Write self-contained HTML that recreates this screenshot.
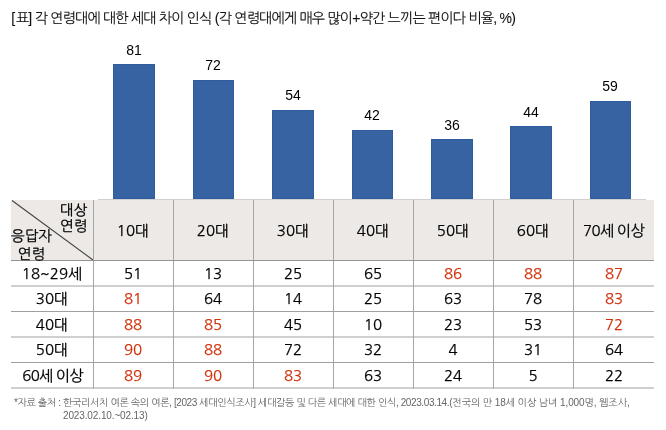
<!DOCTYPE html>
<html lang="ko">
<head>
<meta charset="utf-8">
<style>
html,body{margin:0;padding:0;background:#fff;}
body{width:666px;height:430px;position:relative;overflow:hidden;-webkit-text-stroke:0.25px currentColor;
  font-family:"NanumGothic","Liberation Sans",sans-serif;color:#000;}
.a{position:absolute;white-space:nowrap;}
.title{left:12.8px;top:9px;font-size:14px;letter-spacing:-0.75px;color:#111;-webkit-text-stroke:0.1px #111;font-family:"Liberation Sans","NanumGothic",sans-serif;}
.bar{position:absolute;background:#3763a3;box-shadow:inset 0 0 0 1px #2f5c9f;}
.lbl{position:absolute;width:60px;text-align:center;font-size:14px;color:#000;font-family:"Liberation Sans",sans-serif;-webkit-text-stroke:0;}
.hdr{position:absolute;left:11px;top:200px;width:643px;height:60px;background:#ece9e6;}
.cell{position:absolute;width:80px;text-align:center;font-size:15px;line-height:18px;}
.red{color:#d2300a;}
.foot{position:absolute;font-size:10px;letter-spacing:-0.4px;color:#666;-webkit-text-stroke:0;line-height:12.5px;font-family:"Liberation Sans","NanumGothic",sans-serif;}
</style>
</head>
<body>
<div class="a title"><span style="position:relative;left:-1.5px">[</span>표] 각 연령대에 대한 세대 차이 인식 (각 연령대에게 매우 많이+약간 느끼는 편이다 비율, %)</div>

<!-- bars -->
<div class="bar" style="left:113px;top:64px;width:42px;height:135px"></div>
<div class="bar" style="left:193px;top:80px;width:41px;height:119px"></div>
<div class="bar" style="left:272px;top:110px;width:42px;height:89px"></div>
<div class="bar" style="left:352px;top:130px;width:41px;height:69px"></div>
<div class="bar" style="left:431px;top:139px;width:42px;height:60px"></div>
<div class="bar" style="left:510px;top:126px;width:42px;height:73px"></div>
<div class="bar" style="left:590px;top:101px;width:41px;height:98px"></div>

<div class="lbl" style="left:104px;top:42px">81</div>
<div class="lbl" style="left:183px;top:57px">72</div>
<div class="lbl" style="left:263px;top:87px">54</div>
<div class="lbl" style="left:342px;top:107px">42</div>
<div class="lbl" style="left:422px;top:117px">36</div>
<div class="lbl" style="left:501px;top:104px">44</div>
<div class="lbl" style="left:580px;top:78px">59</div>

<div class="hdr"></div>

<svg class="a" style="left:0;top:0" width="666" height="430" viewBox="0 0 666 430">
  <line x1="98" y1="199.5" x2="646" y2="199.5" stroke="#d0d0d0" stroke-width="1"/>
  <line x1="12" y1="200.5" x2="93" y2="260" stroke="#444" stroke-width="1.1"/>
  <g stroke="#a6a6a6" stroke-width="1">
    <line x1="93.5" y1="200" x2="93.5" y2="388.5"/>
    <line x1="173.5" y1="200" x2="173.5" y2="388.5"/>
    <line x1="253.5" y1="200" x2="253.5" y2="388.5"/>
    <line x1="333.5" y1="200" x2="333.5" y2="388.5"/>
    <line x1="413.5" y1="200" x2="413.5" y2="388.5"/>
    <line x1="493.5" y1="200" x2="493.5" y2="388.5"/>
    <line x1="573.5" y1="200" x2="573.5" y2="388.5"/>
  </g>
  <line x1="11" y1="260.5" x2="654" y2="260.5" stroke="#939393" stroke-width="1"/>
  <g stroke="#a0a0a0" stroke-width="1">
    <line x1="11" y1="286" x2="654" y2="286"/>
    <line x1="11" y1="311.5" x2="654" y2="311.5"/>
    <line x1="11" y1="337" x2="654" y2="337"/>
    <line x1="11" y1="362.5" x2="654" y2="362.5"/>
    <line x1="11" y1="388" x2="654" y2="388"/>
  </g>
</svg>

<!-- header -->
<div class="a" style="left:60px;top:202px;font-size:14.5px;line-height:16px;text-align:center;">대상<br>연령</div>
<div class="a" style="left:11px;top:228px;font-size:14.5px;line-height:17.5px;text-align:center;">응답자<br>연령</div>
<div class="cell" style="left:93px;top:222px">10대</div>
<div class="cell" style="left:173px;top:222px">20대</div>
<div class="cell" style="left:253px;top:222px">30대</div>
<div class="cell" style="left:333px;top:222px">40대</div>
<div class="cell" style="left:413px;top:222px">50대</div>
<div class="cell" style="left:493px;top:222px">60대</div>
<div class="cell" style="left:573.5px;top:222px;letter-spacing:-0.6px">70세 이상</div>

<!-- rows -->
<div class="cell" style="left:12px;top:265px">18~29세</div>
<div class="cell" style="left:93px;top:265px">51</div>
<div class="cell" style="left:173px;top:265px">13</div>
<div class="cell" style="left:253px;top:265px">25</div>
<div class="cell" style="left:333px;top:265px">65</div>
<div class="cell red" style="left:413px;top:265px">86</div>
<div class="cell red" style="left:493px;top:265px">88</div>
<div class="cell red" style="left:574px;top:265px">87</div>

<div class="cell" style="left:12px;top:290px">30대</div>
<div class="cell red" style="left:93px;top:290px">81</div>
<div class="cell" style="left:173px;top:290px">64</div>
<div class="cell" style="left:253px;top:290px">14</div>
<div class="cell" style="left:333px;top:290px">25</div>
<div class="cell" style="left:413px;top:290px">63</div>
<div class="cell" style="left:493px;top:290px">78</div>
<div class="cell red" style="left:574px;top:290px">83</div>

<div class="cell" style="left:12px;top:316px">40대</div>
<div class="cell red" style="left:93px;top:316px">88</div>
<div class="cell red" style="left:173px;top:316px">85</div>
<div class="cell" style="left:253px;top:316px">45</div>
<div class="cell" style="left:333px;top:316px">10</div>
<div class="cell" style="left:413px;top:316px">23</div>
<div class="cell" style="left:493px;top:316px">53</div>
<div class="cell red" style="left:574px;top:316px">72</div>

<div class="cell" style="left:12px;top:341px">50대</div>
<div class="cell red" style="left:93px;top:341px">90</div>
<div class="cell red" style="left:173px;top:341px">88</div>
<div class="cell" style="left:253px;top:341px">72</div>
<div class="cell" style="left:333px;top:341px">32</div>
<div class="cell" style="left:413px;top:341px">4</div>
<div class="cell" style="left:493px;top:341px">31</div>
<div class="cell" style="left:574px;top:341px">64</div>

<div class="cell" style="left:12.5px;top:367px;letter-spacing:-0.7px">60세 이상</div>
<div class="cell red" style="left:93px;top:367px">89</div>
<div class="cell red" style="left:173px;top:367px">90</div>
<div class="cell red" style="left:253px;top:367px">83</div>
<div class="cell" style="left:333px;top:367px">63</div>
<div class="cell" style="left:413px;top:367px">24</div>
<div class="cell" style="left:493px;top:367px">5</div>
<div class="cell" style="left:574px;top:367px">22</div>

<div class="foot a" style="left:14px;top:397px">*자료 출처 : 한국리서치 여론 속의 여론, [2023 세대인식조사] 세대갈등 및 다른 세대에 대한 인식, 2023.03.14.<span style="letter-spacing:-0.12px">(전국의 만 18세 이상 남녀 1,000명, 웹조사,</span></div>
<div class="foot a" style="left:63px;top:409.5px;letter-spacing:-0.13px">2023.02.10.~02.13)</div>
</body>
</html>
